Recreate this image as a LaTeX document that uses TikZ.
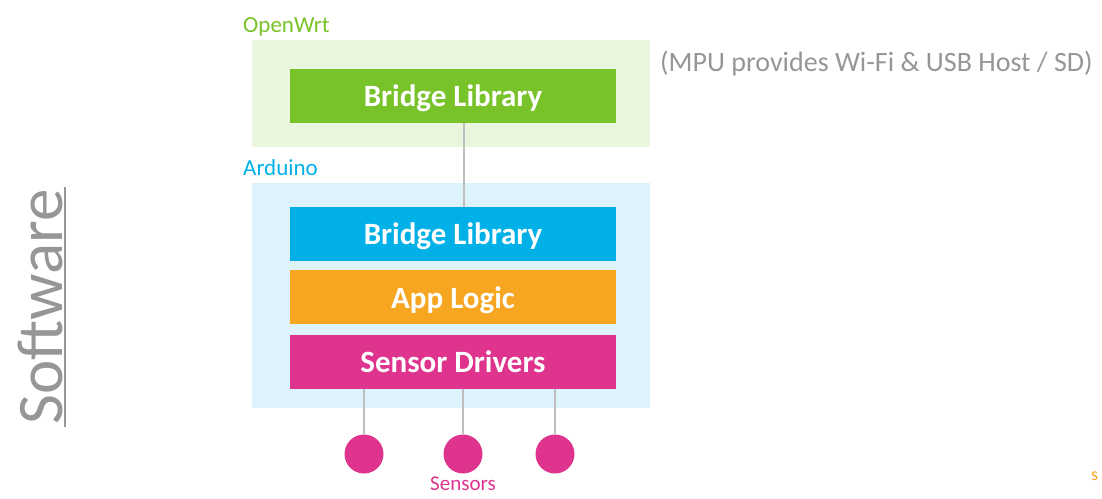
\documentclass[tikz,border=0pt]{standalone}
\usepackage{fontspec}
\setmainfont{Carlito}
\usetikzlibrary{positioning}
\definecolor{wrtgreen}{RGB}{120,194,42}
\definecolor{wrtlight}{RGB}{233,245,221}
\definecolor{ardblue}{RGB}{0,176,230}
\definecolor{ardlight}{RGB}{222,242,251}
\definecolor{apporange}{RGB}{246,166,32}
\definecolor{sensormag}{RGB}{222,52,142}
\definecolor{wiregray}{RGB}{190,190,190}
\definecolor{notegray}{RGB}{150,150,150}
\tikzset{
  layer/.style={rectangle, minimum width=326pt, minimum height=54pt, inner sep=0pt,
    text depth=0pt, text=white, font=\fontsize{31}{34}\selectfont\bfseries},
  zone/.style={rectangle, minimum width=398pt, inner sep=0pt},
  zonelabel/.style={anchor=base west, inner sep=0pt, font=\fontsize{23}{26}\selectfont},
  sensor/.style={circle, fill=sensormag, minimum size=39pt, inner sep=0pt},
  wire/.style={draw=wiregray, line width=1.6pt}
}

\begin{document}
\begin{tikzpicture}[x=1pt,y=-1pt]
  \useasboundingbox (0,0) rectangle (1102,498);

  % Side title
  \node[rotate=90, text=notegray, inner sep=2pt, font=\fontsize{65}{68}\selectfont] (soft) at (40,307) {Software};
  \draw[notegray, line width=1.6pt] (soft.south west) -- (soft.south east);

  % Zones
  \node[zone, fill=wrtlight, minimum height=107pt] (openwrt) at (451,93.5) {};
  \node[zone, fill=ardlight, minimum height=225pt] (arduino) at (451,295.5) {};
  \node[zonelabel, text=wrtgreen] (wrtlbl) at (243,32) {OpenWrt};
  \node[zonelabel, text=ardblue] (ardlbl) at (243,175) {Arduino};

  % Layers
  \node[layer, fill=wrtgreen] (bridgeA) at (453,95.5) {Bridge Library};
  \node[layer, fill=ardblue] (bridgeB) at (453,234) {Bridge Library};
  \node[layer, fill=apporange, below=9pt of bridgeB] (applogic) {App Logic};
  \node[layer, fill=sensormag, below=10pt of applogic] (drivers) {Sensor Drivers};

  \draw[wire] (bridgeA.south -| 464,0) -- (bridgeB.north -| 464,0);

  % Sensors
  \node[sensor] (s1) at (364,454) {};
  \node[sensor] (s2) at (463,454) {};
  \node[sensor] (s3) at (555,454) {};
  \foreach \s in {s1,s2,s3}
    \draw[wire] (drivers.south -| \s) -- (\s);
  \node[text=sensormag, inner sep=1pt, font=\fontsize{21}{24}\selectfont, below=2pt of s2] (sensors) {Sensors};

  % Note
  \node[anchor=west, text=notegray, inner sep=0pt, font=\fontsize{28}{32}\selectfont] (note) at (660,64) {(MPU provides Wi-Fi \& USB Host / SD)};
  \node[anchor=west, text=apporange, inner sep=0pt, font=\fontsize{18}{20}\selectfont] (cut) at (1091,476) {s};
\end{tikzpicture}
\end{document}
